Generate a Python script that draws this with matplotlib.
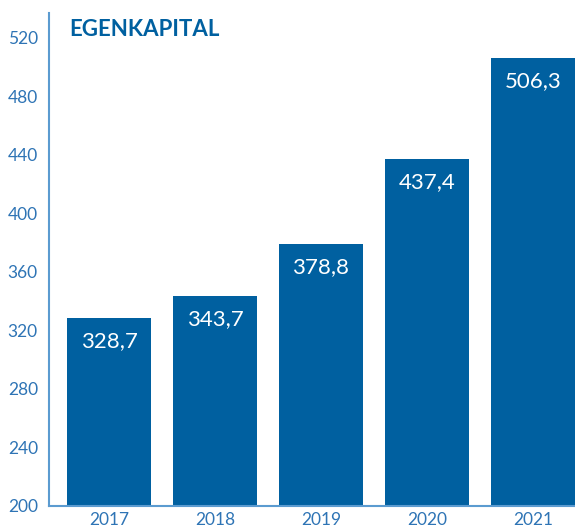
import numpy as np
import matplotlib.pyplot as plt

years = ['2017', '2018', '2019', '2020', '2021']
values = [328.7, 343.7, 378.8, 437.4, 506.3]
labels = ['328,7', '343,7', '378,8', '437,4', '506,3']
yticks = [200, 240, 280, 320, 360, 400, 440, 480, 520]

bar_col = '#0060A0'
tick_col = '#2E74B5'
spine_col = '#5B9BD0'

plt.rcParams['font.family'] = ['Lato', 'DejaVu Sans']

fig = plt.figure(figsize=(5.75, 5.3), dpi=100)
ax = fig.add_axes([49/575, 24/530, 1 - 49/575, (506-13)/530])

x = np.arange(len(years))
ax.bar(x, values, width=0.79, color=bar_col, zorder=2)

for xi, v, lab in zip(x, values, labels):
    ax.annotate(lab, (xi, v), xytext=(0, -23), textcoords='offset pixels',
                ha='center', va='center', color='white', fontsize=16)

ax.set_xlim(-0.566, 4.396)
ax.set_ylim(200, 537)
ax.set_yticks(yticks)
ax.set_xticks(x)
ax.set_xticklabels(years)
ax.tick_params(axis='both', length=0, colors=tick_col, labelsize=12.5)
ax.tick_params(axis='y', pad=8)
ax.tick_params(axis='x', pad=4)

ax.spines['top'].set_visible(False)
ax.spines['right'].set_visible(False)
ax.spines['left'].set_color(spine_col)
ax.spines['bottom'].set_color(spine_col)
ax.spines['left'].set_linewidth(1.5)
ax.spines['bottom'].set_linewidth(1.5)

fig.text(69/575, 1 - 30/530, 'EGENKAPITAL', ha='left', va='center',
         fontsize=16, fontweight='bold', color=bar_col)

fig.savefig('out.png', dpi=100)
